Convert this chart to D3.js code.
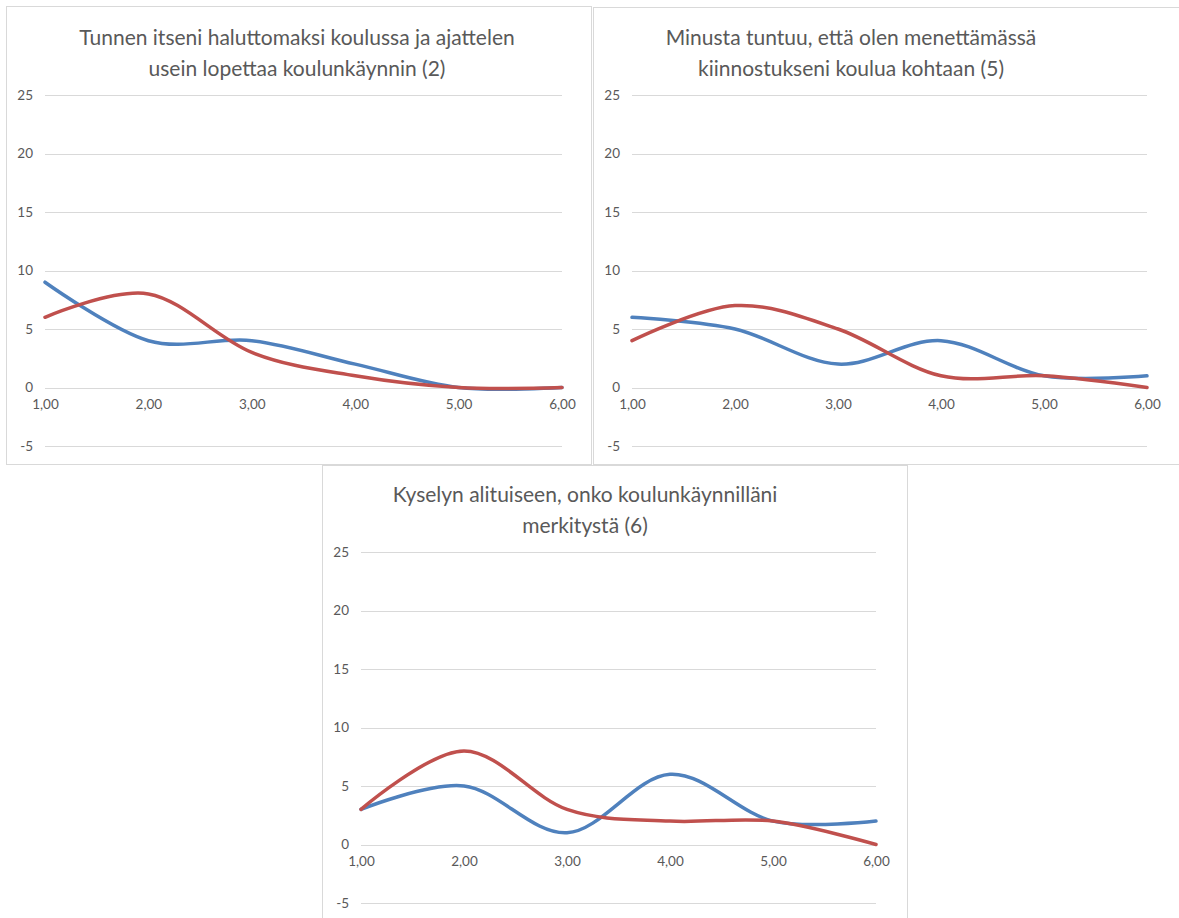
<!DOCTYPE html>
<html>
<head>
<meta charset="utf-8">
<script src="https://cdn.jsdelivr.net/npm/d3@7"></script>
<style>
  html, body { margin: 0; padding: 0; background: #fff; }
  svg { display: block; }
  text { font-family: Lato, "Open Sans", sans-serif; fill: #595959; }
</style>
</head>
<body>
<svg id="chart" width="1179" height="918"></svg>
<script>
// Response scale 1..6 on the x axis, counts on the y axis
const xValues = [1, 2, 3, 4, 5, 6];
const yTicks = [-5, 0, 5, 10, 15, 20, 25];
const xTicks = [1, 2, 3, 4, 5, 6];

const titles = [
  ["Tunnen itseni haluttomaksi koulussa ja ajattelen", "usein lopettaa koulunkäynnin (2)"],
  ["Minusta tuntuu, että olen menettämässä", "kiinnostukseni koulua kohtaan (5)"],
  ["Kyselyn alituiseen, onko koulunkäynnilläni", "merkitystä (6)"]
];

// Two series per chart: blue and red
const blueSeries = [
  [9, 4, 4, 2, 0, 0],
  [6, 5, 2, 4, 1, 1],
  [3, 5, 1, 6, 2, 2]
];
const redSeries = [
  [6, 8, 3, 1, 0, 0],
  [4, 7, 5, 1, 1, 0],
  [3, 8, 3, 2, 2, 0]
];

const seriesColors = ["#4f81bd", "#c0504d"];

// Panel frames and inner plot areas
const panels = [
  { box: [6.5, 6.5, 585, 458], plot: { x0: 45, x1: 562, yTop: 95, yBot: 446 }, titleX: 297, titleY: 38 },
  { box: [593.5, 7.5, 600, 457], plot: { x0: 632, x1: 1147, yTop: 95, yBot: 446 }, titleX: 851, titleY: 38 },
  { box: [322.5, 465.5, 585, 470], plot: { x0: 361, x1: 876, yTop: 552, yBot: 903 }, titleX: 585, titleY: 495 }
];

const svg = d3.select("#chart");
const fmtX = d => d3.format(".2f")(d).replace(".", ",");
const fmtY = d => String(d);

panels.forEach((p, i) => {
  const g = svg.append("g");

  g.append("rect")
    .attr("x", p.box[0]).attr("y", p.box[1])
    .attr("width", p.box[2]).attr("height", p.box[3])
    .attr("fill", "#fff")
    .attr("stroke", "#d9d9d9")
    .attr("stroke-width", 1);

  const x = d3.scaleLinear().domain([1, 6]).range([p.plot.x0, p.plot.x1]);
  const y = d3.scaleLinear().domain([-5, 25]).range([p.plot.yBot, p.plot.yTop]);

  // Horizontal gridlines
  g.append("g").selectAll("line").data(yTicks).join("line")
    .attr("x1", x(1)).attr("x2", x(6))
    .attr("y1", d => Math.round(y(d)) + 0.5).attr("y2", d => Math.round(y(d)) + 0.5)
    .attr("stroke", "#d9d9d9").attr("stroke-width", 1);

  // Y axis labels
  const yAxis = d3.axisLeft(y).tickValues(yTicks).tickFormat(fmtY).tickSize(0).tickPadding(12);
  const ya = g.append("g").attr("transform", `translate(${x(1)},0)`).call(yAxis);
  ya.select(".domain").remove();
  ya.selectAll("text").style("font-size", "13.5px").attr("fill", "#595959")
    .style("font-family", "Lato, 'Open Sans', sans-serif");

  // X axis labels below the zero line
  const xAxis = d3.axisBottom(x).tickValues(xTicks).tickFormat(fmtX).tickSize(0).tickPadding(12);
  const xa = g.append("g").attr("transform", `translate(0,${y(0)})`).call(xAxis);
  xa.select(".domain").remove();
  xa.selectAll("text").style("font-size", "13.5px").attr("fill", "#595959")
    .style("font-family", "Lato, 'Open Sans', sans-serif");

  // Smoothed series lines
  const line = d3.line()
    .x((d, j) => x(xValues[j]))
    .y(d => y(d))
    .curve(d3.curveCardinal.tension(0));

  [blueSeries[i], redSeries[i]].forEach((vals, k) => {
    g.append("path")
      .datum(vals)
      .attr("d", line)
      .attr("fill", "none")
      .attr("stroke", seriesColors[k])
      .attr("stroke-width", 3.5)
      .attr("stroke-linecap", "round");
  });

  // Title
  const t = g.append("text")
    .attr("x", p.titleX).attr("y", p.titleY)
    .attr("text-anchor", "middle")
    .style("font-size", "21px");
  titles[i].forEach((ln, j) => {
    t.append("tspan").attr("x", p.titleX).attr("dy", j === 0 ? "0.35em" : "1.45em").text(ln);
  });
});
</script>
</body>
</html>
